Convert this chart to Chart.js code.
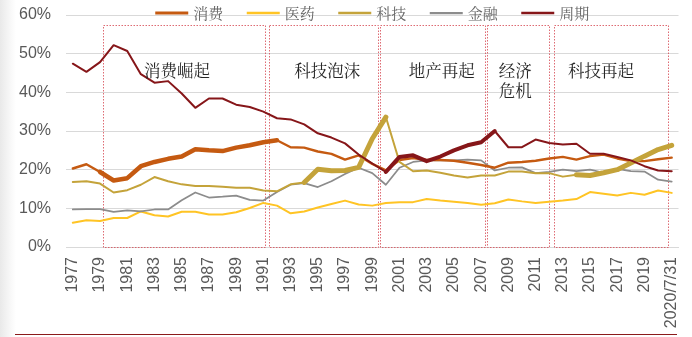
<!DOCTYPE html>
<html>
<head>
<meta charset="utf-8">
<script src="https://cdn.jsdelivr.net/npm/chart.js@4.4.1/dist/chart.umd.min.js"></script>
<style>
  html, body { margin: 0; padding: 0; background: #fff; }
  #wrap {
    position: relative; width: 692px; height: 337px;
    background: linear-gradient(to right, #e9e9e9 0, #f6f6f6 9px, #fff 16px);
  }
  #wrap::after {
    content: ''; position: absolute; left: 15px; right: 15px; bottom: 2px;
    height: 1.5px; background: #8b1a1a;
  }
  canvas { display: block; }
</style>
</head>
<body>
<div id="wrap"><canvas id="chart-area" width="692" height="337"></canvas></div>
<script>
// 年份（最后一个点为 2020/7/31）
var years = [];
for (var y = 1977; y <= 2020; y++) years.push(String(y));
years.push('2020/7/31');

// 各行业市值占比（%）
var xiaofei = [20.3, 21.4, 19.4, 17.2, 17.8, 20.9, 22.0, 22.8, 23.4, 25.3, 25.0, 24.8, 25.7, 26.3, 27.1,
  27.6, 25.8, 25.7, 24.7, 24.1, 22.6, 23.7, 21.5, 19.8, 22.5, 23.0, 22.5, 22.5, 22.3, 21.8,
  21.2, 20.5, 21.8, 22.0, 22.3, 22.9, 23.3, 22.6, 23.5, 23.9, 22.9, 22.2, 22.2, 22.7, 23.1];
var yiyao = [6.3, 6.9, 6.7, 7.5, 7.5, 9.2, 8.2, 7.9, 9.1, 9.1, 8.4, 8.4, 9.0, 10.1, 11.4,
  10.7, 8.7, 9.2, 10.2, 11.1, 12.0, 11.0, 10.7, 11.4, 11.6, 11.6, 12.4, 12.0, 11.7, 11.4,
  10.9, 11.3, 12.3, 11.8, 11.4, 11.7, 12.0, 12.4, 14.2, 13.8, 13.3, 14.0, 13.5, 14.6, 14.0];
var keji = [16.8, 17.0, 16.4, 14.1, 14.7, 16.1, 18.1, 17.0, 16.2, 15.8, 15.8, 15.6, 15.3, 15.3, 14.6,
  14.4, 16.2, 16.7, 20.1, 19.7, 19.8, 20.6, 28.0, 33.6, 22.0, 19.6, 19.8, 19.2, 18.5, 18.0,
  18.5, 18.5, 19.5, 19.5, 19.1, 19.1, 18.2, 18.7, 18.5, 19.2, 20.0, 21.7, 23.5, 25.2, 26.3];
var jinrong = [9.7, 9.8, 9.8, 9.1, 9.5, 9.2, 9.7, 9.7, 12.1, 14.1, 12.8, 13.0, 13.3, 12.2, 12.0,
  14.2, 16.1, 16.5, 15.5, 17.0, 18.9, 20.5, 19.1, 16.1, 20.5, 22.0, 22.4, 22.4, 22.4, 22.6,
  22.4, 19.8, 20.5, 20.6, 19.1, 19.4, 20.0, 19.6, 20.0, 19.2, 20.2, 19.6, 19.5, 17.4, 16.9];
var zhouqi = [47.4, 45.3, 47.8, 52.2, 50.7, 44.7, 42.5, 42.9, 39.7, 36.0, 38.4, 38.4, 36.8, 36.2, 35.0,
  33.3, 33.0, 31.7, 29.4, 28.3, 26.8, 23.9, 21.6, 19.4, 23.3, 23.7, 22.2, 23.4, 25.0, 26.3,
  27.1, 30.0, 25.8, 25.8, 27.8, 26.9, 26.5, 26.7, 24.1, 24.1, 23.3, 22.4, 20.9, 19.8, 19.6];

var yTicks = [0, 10, 20, 30, 40, 50, 60];

// 阶段划分：起止位置（按年份序号）
var periodNames = ['消费崛起', '科技泡沫', '地产再起', '经济\n危机', '科技再起'];
var periodSpans = [[2.2, 14.15], [14.45, 22.45], [22.6, 30.25], [30.4, 34.95], [35.35, 43.7]];
var periodTextAt = [7.65, 18.7, 27.1, 32.5, 38.8];

// 各阶段中主导行业的线段加粗
var boldSpans = { '消费': [[2, 15]], '科技': [[17, 23], [37, 44]], '周期': [[23, 31]] };

function segWidth(name, thin, thick) {
  return function (ctx) {
    var spans = boldSpans[name] || [];
    for (var k = 0; k < spans.length; k++) {
      if (ctx.p0DataIndex >= spans[k][0] && ctx.p1DataIndex <= spans[k][1]) return thick;
    }
    return thin;
  };
}

function series(name, values, color, thin, thick, order) {
  return {
    label: name, data: values, borderColor: color, backgroundColor: color,
    borderWidth: thin, legendWidth: thin, order: order,
    segment: { borderWidth: segWidth(name, thin, thick) },
    pointRadius: 0, tension: 0, fill: false,
    borderJoinStyle: 'round', borderCapStyle: 'round'
  };
}

var cjkSerif = '"Noto Serif CJK SC", "Noto Sans CJK SC", serif';

// 阶段虚线框与文字
var periodPlugin = {
  id: 'periods',
  beforeDatasetsDraw: function (chart) {
    var c = chart.ctx, xs = chart.scales.x, ys = chart.scales.y;
    var top = ys.getPixelForValue(57.4), bot = ys.getPixelForValue(0);
    c.save();
    c.strokeStyle = 'rgba(214, 70, 80, 0.8)';
    c.lineWidth = 1;
    c.setLineDash([1.5, 1.5]);
    periodSpans.forEach(function (s) {
      var l = Math.round(xs.getPixelForValue(s[0])) + 0.5;
      var r = Math.round(xs.getPixelForValue(s[1])) + 0.5;
      c.strokeRect(l, Math.round(top) + 0.5, r - l, Math.round(bot) - Math.round(top));
    });
    c.restore();
  },
  afterDatasetsDraw: function (chart) {
    var c = chart.ctx, xs = chart.scales.x, ys = chart.scales.y;
    c.save();
    c.fillStyle = '#262626';
    c.font = '16.5px ' + cjkSerif;
    c.textAlign = 'center';
    c.textBaseline = 'middle';
    periodNames.forEach(function (t, i) {
      var x = xs.getPixelForValue(periodTextAt[i]);
      t.split('\n').forEach(function (line, j) {
        c.fillText(line, x, ys.getPixelForValue(45.5) + j * 19.5);
      });
    });
    c.restore();
  }
};

// 顶部图例，压在 60% 网格线上
var legendPlugin = {
  id: 'topLegend',
  afterDraw: function (chart) {
    var c = chart.ctx, a = chart.chartArea;
    var sets = chart.data.datasets;
    var lineLen = 33, gap = 5, between = 23.5;
    c.save();
    c.font = '15px ' + cjkSerif;
    var widths = sets.map(function (d) { return lineLen + gap + c.measureText(d.label).width; });
    var total = widths.reduce(function (s, w) { return s + w; }, 0) + between * (sets.length - 1);
    var x = (a.left + a.right) / 2 - total / 2;
    var yMid = a.top - 2;
    sets.forEach(function (d, i) {
      c.strokeStyle = d.borderColor;
      c.lineWidth = d.legendWidth + 0.5;
      c.beginPath();
      c.moveTo(x, yMid);
      c.lineTo(x + lineLen, yMid);
      c.stroke();
      c.fillStyle = '#666';
      c.textBaseline = 'middle';
      c.textAlign = 'left';
      c.fillText(d.label, x + lineLen + gap, yMid);
      x += widths[i] + between;
    });
    c.restore();
  }
};

var tickFont = { family: '"Liberation Sans", Arial, sans-serif', size: 16 };

var config = {
  type: 'line',
  data: {
    labels: years,
    datasets: [
      series('消费', xiaofei, '#c55a11', 2.4, 4.5, 2),
      series('医药', yiyao, '#ffc424', 2, 2, 4),
      series('科技', keji, '#c4a33a', 2, 5, 1),
      series('金融', jinrong, '#8c8c8c', 1.75, 1.75, 3),
      series('周期', zhouqi, '#861619', 2, 4, 0)
    ]
  },
  options: {
    responsive: false,
    animation: false,
    devicePixelRatio: 1,
    layout: { padding: { top: 15, right: 13.5, bottom: 6, left: 0 } },
    plugins: {
      legend: { display: false },
      tooltip: { enabled: false }
    },
    scales: {
      x: {
        offset: true,
        grid: { display: false },
        border: { color: '#d9d9d9' },
        afterFit: function (s) { s.height = 84; s.paddingLeft = 0; s.paddingRight = 0; },
        ticks: {
          autoSkip: false, minRotation: 90, maxRotation: 90, padding: 2,
          color: '#595959', font: tickFont,
          callback: function (v, i) { return i % 2 === 0 ? this.getLabelForValue(v) : ''; }
        }
      },
      y: {
        min: 0, max: 60,
        afterBuildTicks: function (s) { s.ticks = yTicks.map(function (v) { return { value: v }; }); },
        afterFit: function (s) { s.width = 66; s.paddingTop = 0; s.paddingBottom = 0; },
        grid: { color: '#d9d9d9', drawTicks: false },
        border: { display: false },
        ticks: {
          padding: 15, color: '#595959', font: tickFont,
          callback: function (v) { return v + '%'; }
        }
      }
    }
  },
  plugins: [periodPlugin, legendPlugin]
};

var ctx2 = document.getElementById('chart-area').getContext('2d');
window.myLine = new Chart(ctx2, config);
</script>
</body>
</html>
